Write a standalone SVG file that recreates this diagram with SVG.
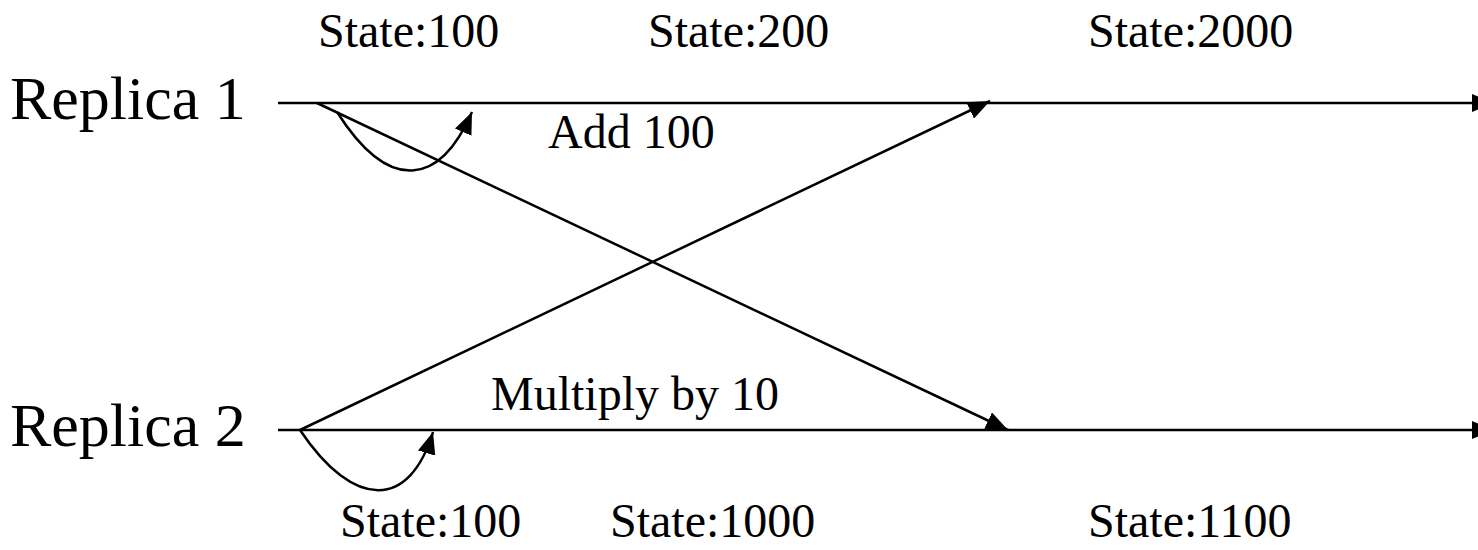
<svg xmlns="http://www.w3.org/2000/svg" width="1478" height="550" viewBox="0 0 1478 550">
<style>
.t{font-family:"Liberation Serif","Times New Roman",serif;fill:#000}
.s{font-size:48px}
.r{font-size:62px}
.ln{stroke:#000;stroke-width:2.5;fill:none}
</style>
<defs>
<marker id="ah" markerUnits="userSpaceOnUse" markerWidth="22" markerHeight="18" refX="22" refY="9" orient="auto" viewBox="0 0 22 18">
<path d="M0,0 L22,9 L0,18 z" fill="#000"/>
</marker>
</defs>
<rect width="1478" height="550" fill="#fff"/>
<g id="replica1">
<text class="t r" x="10" y="119">Replica 1</text>
</g>
<g id="replica2">
<text class="t r" x="10" y="446">Replica 2</text>
</g>
<g id="labels">
<text class="t s" x="318" y="47">State:100</text>
<text class="t s" x="648" y="47">State:200</text>
<text class="t s" x="1088" y="47">State:2000</text>
<text class="t s" x="548" y="148">Add 100</text>
<text class="t s" x="491" y="410">Multiply by 10</text>
<text class="t s" x="340" y="537">State:100</text>
<text class="t s" x="610" y="537">State:1000</text>
<text class="t s" x="1088" y="537">State:1100</text>
</g>
<g id="connectors">
<line class="ln" x1="278" y1="103" x2="1494" y2="103" marker-end="url(#ah)"/>
<line class="ln" x1="278" y1="430" x2="1494" y2="430" marker-end="url(#ah)"/>
<line class="ln" x1="317" y1="103" x2="1008" y2="430" marker-end="url(#ah)"/>
<line class="ln" x1="300" y1="430" x2="990" y2="101" marker-end="url(#ah)"/>
<path class="ln" d="M337,112 C390,195 440,185 472,112" marker-end="url(#ah)"/>
<path class="ln" d="M300,430 C355,512 410,508 433,432" marker-end="url(#ah)"/>
</g>
</svg>
